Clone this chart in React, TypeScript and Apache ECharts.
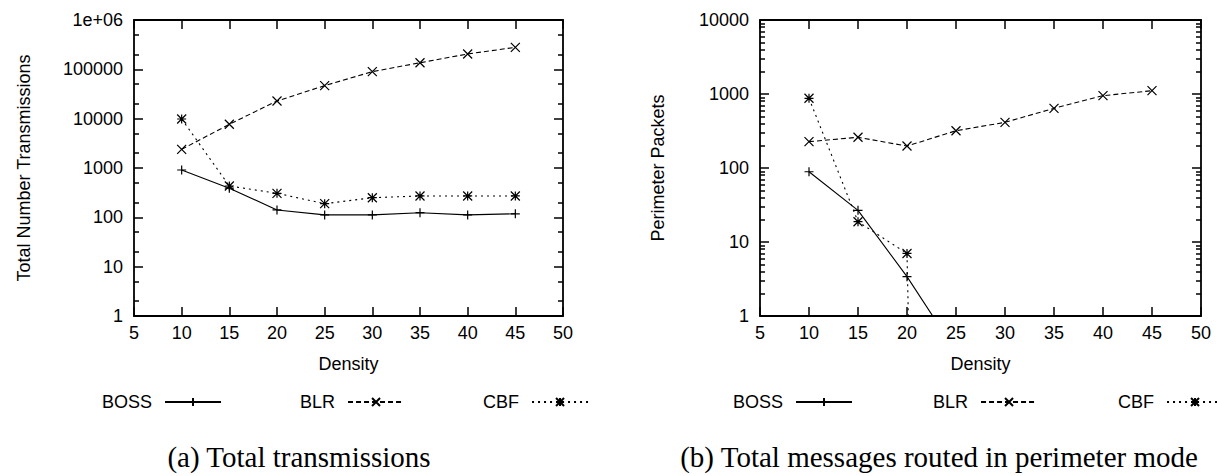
import React, { useEffect, useRef } from 'react';
import * as echarts from 'echarts';

// ---- data ----
const density = [10, 15, 20, 25, 30, 35, 40, 45];
const totalBoss = [910, 390, 141, 112, 112, 124, 112, 118];
const totalBlr = [2390, 7690, 22800, 46700, 89700, 136000, 205000, 279000];
const totalCbf = [9850, 432, 307, 189, 250, 271, 271, 271];
// perimeter mode: values at or near zero fall below the log axis
const perimBoss = [89, 26.8, 3.4, 0.33, null, null, null, null];
const perimBlr = [227, 260, 198, 319, 414, 640, 949, 1109];
const perimCbf = [875, 18.8, 7.0, 1e-30, null, null, null, null];

const seriesNames = ['BOSS', 'BLR', 'CBF'];
const totalMajor = [1, 10, 100, 1000, 10000, 100000, 1000000];
const totalMinor = [2, 5, 20, 50, 200, 500, 2000, 5000, 20000, 50000, 200000, 500000];
const perimMajor = [1, 10, 100, 1000, 10000];
const perimMinor = [
  2, 3, 4, 5, 6, 7, 8, 9,
  20, 30, 40, 50, 60, 70, 80, 90,
  200, 300, 400, 500, 600, 700, 800, 900,
  2000, 3000, 4000, 5000, 6000, 7000, 8000, 9000,
];
const captions = ['(a) Total transmissions', '(b) Total messages routed in perimeter mode'];
const yTitles = ['Total Number Transmissions', 'Perimeter Packets'];

const plusSym = 'path://M5,0L5,10M0,5L10,5';
const crossSym = 'path://M0,0L10,10M0,10L10,0';
const starSym = 'path://M5,0L5,10M0,5L10,5M0,0L10,10M0,10L10,0';

const FONT = 'Liberation Sans, Arial, Helvetica, sans-serif';
const BLACK = '#000';

export default function App() {
  const ref = useRef<HTMLDivElement>(null);

  useEffect(() => {
    if (!ref.current) return;
    const chart = echarts.init(ref.current, undefined, { renderer: 'svg' });

    const grids = [
      { left: 134, top: 20, width: 429, height: 296, outerBoundsMode: 'none', containLabel: false },
      { left: 760, top: 20, width: 441, height: 296, outerBoundsMode: 'none', containLabel: false },
    ];

    const axisLine = { show: true, onZero: false, lineStyle: { color: BLACK, width: 1.8 } };

    const xAxes: any[] = [];
    [0, 1].forEach((g) => {
      xAxes.push({
        type: 'value', gridIndex: g, position: 'bottom', min: 5, max: 50, interval: 5,
        axisLine,
        axisTick: { show: true, inside: true, length: 9, lineStyle: { color: BLACK, width: 1.5 } },
        axisLabel: { show: true, color: BLACK, fontSize: 18, fontFamily: FONT, margin: 8 },
        splitLine: { show: false },
        name: 'Density', nameLocation: 'middle', nameGap: 39,
        nameTextStyle: { color: BLACK, fontSize: 18, fontFamily: FONT },
      });
      xAxes.push({
        type: 'value', gridIndex: g, position: 'top', min: 5, max: 50, interval: 5,
        axisLine,
        axisTick: { show: true, inside: true, length: 9, lineStyle: { color: BLACK, width: 1.5 } },
        axisLabel: { show: false },
        splitLine: { show: false },
      });
    });

    const yAxes: any[] = [];
    const ySpecs = [
      { min: 1, max: 1000000, major: totalMajor, minor: totalMinor, gap: 101 },
      { min: 1, max: 10000, major: perimMajor, minor: perimMinor, gap: 93 },
    ];
    ySpecs.forEach((s, g) => {
      const fmt = (v: number) => (v >= 1000000 ? '1e+06' : String(Math.round(v)));
      yAxes.push({
        type: 'log', logBase: 10, gridIndex: g, position: 'left', min: s.min, max: s.max,
        axisLine,
        axisTick: { show: true, inside: true, length: 9, customValues: s.major, lineStyle: { color: BLACK, width: 1.5 } },
        axisLabel: { show: true, customValues: s.major, formatter: fmt, color: BLACK, fontSize: 18, fontFamily: FONT, margin: 11 },
        splitLine: { show: false },
        name: yTitles[g], nameLocation: 'middle', nameGap: s.gap,
        nameTextStyle: { color: BLACK, fontSize: 18, fontFamily: FONT },
      });
      yAxes.push({
        type: 'log', logBase: 10, gridIndex: g, position: 'left', min: s.min, max: s.max,
        axisLine: { show: false },
        axisTick: { show: true, inside: true, length: 5, customValues: s.minor, lineStyle: { color: BLACK, width: 1.5 } },
        axisLabel: { show: false },
        splitLine: { show: false },
      });
      yAxes.push({
        type: 'log', logBase: 10, gridIndex: g, position: 'right', min: s.min, max: s.max,
        axisLine,
        axisTick: { show: true, inside: true, length: 9, customValues: s.major, lineStyle: { color: BLACK, width: 1.5 } },
        axisLabel: { show: false },
        splitLine: { show: false },
      });
      yAxes.push({
        type: 'log', logBase: 10, gridIndex: g, position: 'right', min: s.min, max: s.max,
        axisLine: { show: false },
        axisTick: { show: true, inside: true, length: 5, customValues: s.minor, lineStyle: { color: BLACK, width: 1.5 } },
        axisLabel: { show: false },
        splitLine: { show: false },
      });
    });

    const styleOf = [
      { symbol: plusSym, type: 'solid' as any },
      { symbol: crossSym, type: [5, 3] as any },
      { symbol: starSym, type: [2, 4] as any },
    ];
    const pairs = (ys: (number | null)[]) => density.map((x, i) => [x, ys[i]]);
    const mk = (name: string, idx: number, ys: (number | null)[], g: number) => ({
      type: 'line',
      name,
      xAxisIndex: g * 2,
      yAxisIndex: g * 4,
      data: pairs(ys),
      symbol: styleOf[idx].symbol,
      symbolSize: 9,
      showAllSymbol: true,
      clip: true,
      connectNulls: false,
      lineStyle: { color: BLACK, width: 1.1, type: styleOf[idx].type },
      itemStyle: { color: BLACK, borderColor: BLACK, borderWidth: 1.2 },
      emphasis: { disabled: true },
      silent: true,
    });

    const series = [
      mk('BOSS', 0, totalBoss, 0),
      mk('BLR', 1, totalBlr, 0),
      mk('CBF', 2, totalCbf, 0),
      mk('BOSS', 0, perimBoss, 1),
      mk('BLR', 1, perimBlr, 1),
      mk('CBF', 2, perimCbf, 1),
    ];

    const legendBase = {
      data: seriesNames,
      orient: 'horizontal',
      align: 'right',
      itemWidth: 56,
      itemHeight: 10,
      padding: 0,
      selectedMode: false,
      textStyle: { color: BLACK, fontSize: 18, fontFamily: FONT, padding: [0, 8, 0, 0] },
    };

    const capStyle = { fill: BLACK, fontSize: 29, fontFamily: 'Liberation Serif, serif', align: 'center', verticalAlign: 'middle' };

    chart.setOption({
      animation: false,
      backgroundColor: '#fff',
      grid: grids,
      xAxis: xAxes,
      yAxis: yAxes,
      series,
      legend: [
        { ...legendBase, left: 102, top: 393, itemGap: 78 },
        { ...legendBase, left: 733, top: 393, itemGap: 80 },
      ],
      graphic: [
        { type: 'text', x: 299, y: 457, silent: true, style: { ...capStyle, text: captions[0] } },
        { type: 'text', x: 939, y: 457, silent: true, style: { ...capStyle, text: captions[1] } },
      ],
    });

    return () => chart.dispose();
  }, []);

  return (
    <div
      ref={ref}
      style={{ position: 'absolute', left: 0, top: 0, width: 1217, height: 476, background: '#fff' }}
    />
  );
}
